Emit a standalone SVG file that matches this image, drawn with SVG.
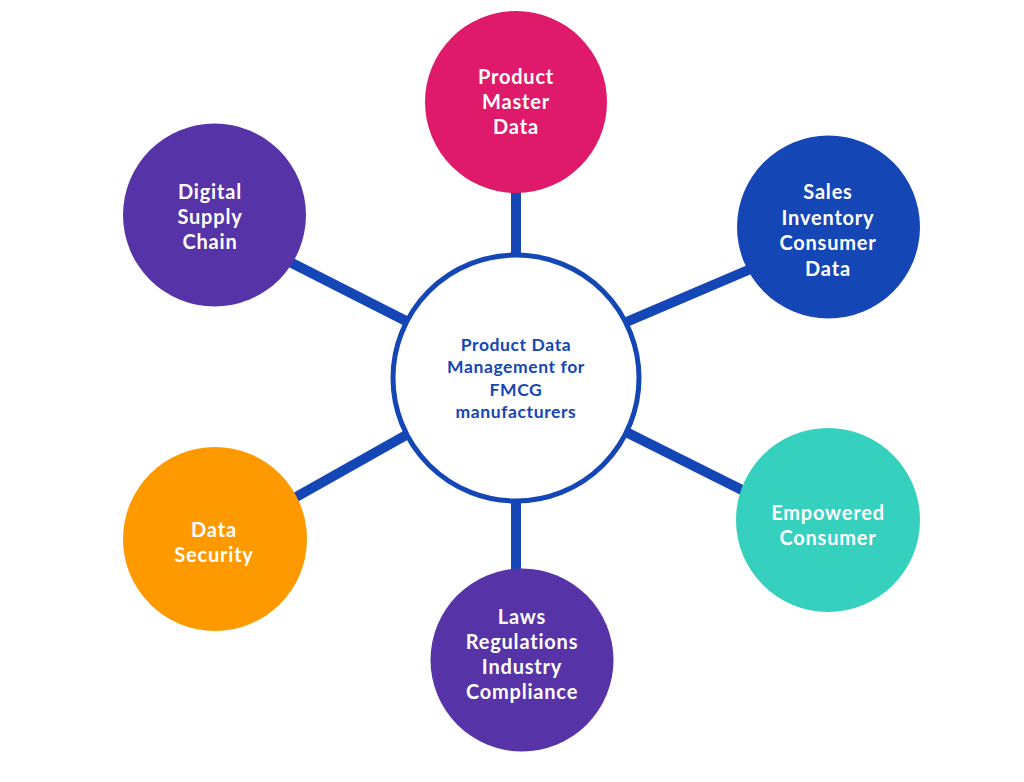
<svg xmlns="http://www.w3.org/2000/svg" width="1024" height="782" viewBox="0 0 1024 782">
<style>
.link{stroke:#1446B6;stroke-width:10;stroke-linecap:butt;fill:none}
.lbl{font-family:Lato,"Open Sans","Liberation Sans",sans-serif;font-weight:bold;font-size:20px;letter-spacing:0.8px;fill:#ffffff;text-anchor:middle}
.clbl{font-family:Lato,"Open Sans","Liberation Sans",sans-serif;font-weight:bold;font-size:17.5px;letter-spacing:0.6px;fill:#1446B6;text-anchor:middle}
</style>
<rect width="1024" height="782" fill="#ffffff"/>
<g id="connectors">
<line class="link" x1="516" y1="180" x2="516" y2="260"/>
<line class="link" x1="516" y1="496" x2="516" y2="580"/>
<line class="link" x1="280" y1="257" x2="408" y2="322"/>
<line class="link" x1="760" y1="265" x2="624" y2="323"/>
<line class="link" x1="622" y1="430" x2="750" y2="494"/>
<line class="link" x1="280" y1="506" x2="408" y2="434"/>
</g>
<g id="center">
<circle cx="516" cy="378" r="123" fill="#ffffff" stroke="#1446B6" stroke-width="5"/>
<text class="clbl" x="516" y="351">Product Data</text>
<text class="clbl" x="516" y="373">Management for</text>
<text class="clbl" x="516" y="396">FMCG</text>
<text class="clbl" x="516" y="418">manufacturers</text>
</g>
<g id="product-master-data">
<circle cx="516" cy="102" r="91" fill="#DF1A6A"/>
<text class="lbl" x="516" y="84">Product</text>
<text class="lbl" x="516" y="109">Master</text>
<text class="lbl" x="516" y="134">Data</text>
</g>
<g id="digital-supply-chain">
<circle cx="214.5" cy="215" r="91.5" fill="#5733A8"/>
<text class="lbl" x="210" y="199">Digital</text>
<text class="lbl" x="210" y="224">Supply</text>
<text class="lbl" x="210" y="249">Chain</text>
</g>
<g id="sales-inventory-consumer-data">
<circle cx="828.5" cy="227" r="91.5" fill="#1446B6"/>
<text class="lbl" x="828" y="199">Sales</text>
<text class="lbl" x="828" y="225">Inventory</text>
<text class="lbl" x="828" y="250">Consumer</text>
<text class="lbl" x="828" y="276">Data</text>
</g>
<g id="empowered-consumer">
<circle cx="828" cy="520" r="92" fill="#36D0BE"/>
<text class="lbl" x="828" y="520">Empowered</text>
<text class="lbl" x="828" y="545">Consumer</text>
</g>
<g id="data-security">
<circle cx="215" cy="539" r="92" fill="#FF9900"/>
<text class="lbl" x="214" y="537">Data</text>
<text class="lbl" x="214" y="562">Security</text>
</g>
<g id="laws-regulations">
<circle cx="522" cy="660" r="91.5" fill="#5733A8"/>
<text class="lbl" x="522" y="624">Laws</text>
<text class="lbl" x="522" y="649">Regulations</text>
<text class="lbl" x="522" y="674">Industry</text>
<text class="lbl" x="522" y="699">Compliance</text>
</g>
</svg>
